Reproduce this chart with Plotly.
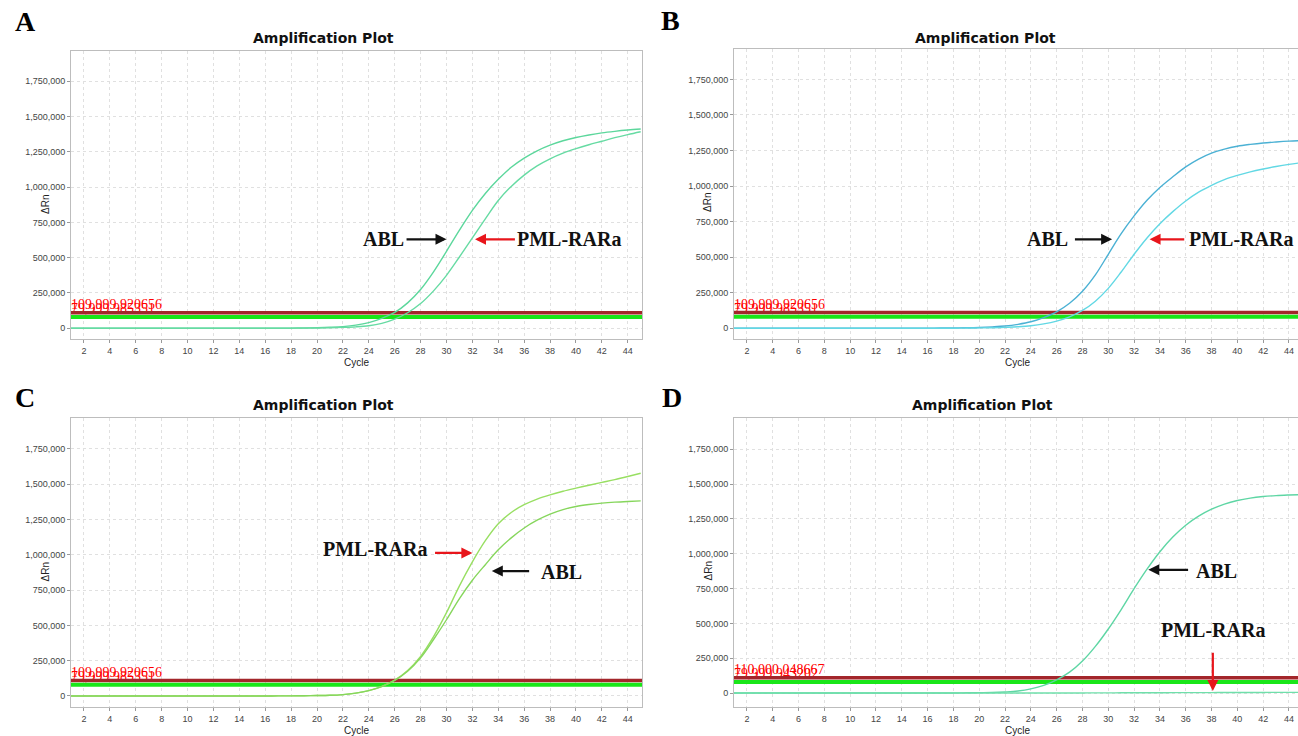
import plotly.graph_objects as go

W, H = 1298, 736
cycles = list(range(1, 46))

# ---- Panel A ----
a_abl = [0, 0, 0, 0, 0, 0, 0, 0, 0, 0, 0, 0, 0, 0, 0, 0, 500, 1000, 2000, 4000,
         7000, 12000, 22000, 40000, 70000, 112000, 180000, 275000, 400000, 545000,
         695000, 835000, 955000, 1055000, 1140000, 1205000, 1257000, 1297000, 1328000, 1351000,
         1369000, 1384000, 1395000, 1404000, 1411000]
a_pml = [0, 0, 0, 0, 0, 0, 0, 0, 0, 0, 0, 0, 0, 0, 0, 0, 0, 500, 1000, 2000,
         3500, 6000, 10000, 18000, 35000, 65000, 110000, 175000, 265000, 375000,
         505000, 640000, 775000, 905000, 1005000, 1085000, 1150000, 1200000, 1240000, 1272000,
         1300000, 1325000, 1350000, 1372000, 1392000]
# ---- Panel B ----
b_abl = [0, 0, 0, 0, 0, 0, 0, 0, 0, 0, 0, 0, 0, 0, 0, 0, 1000, 2000, 3000, 5000,
         9000, 15000, 27000, 45000, 75000, 115000, 175000, 260000, 375000, 520000,
         665000, 790000, 900000, 990000, 1065000, 1135000, 1190000, 1232000, 1260000, 1280000,
         1293000, 1303000, 1310000, 1316000, 1320000]
b_pml = [0, 0, 0, 0, 0, 0, 0, 0, 0, 0, 0, 0, 0, 0, 0, 0, 0, 0, 1000, 2000,
         3000, 6000, 10000, 17000, 30000, 50000, 80000, 125000, 190000, 280000,
         395000, 520000, 635000, 735000, 820000, 895000, 957000, 1005000, 1045000, 1075000,
         1100000, 1120000, 1137000, 1152000, 1165000]
# ---- Panel C ----
c_pml = [0, 0, 0, 0, 0, 0, 0, 0, 0, 0, 0, 0, 0, 0, 0, 0, 500, 1000, 2000, 3000,
         5000, 10000, 20000, 38000, 68000, 112000, 180000, 280000, 420000, 590000,
         780000, 950000, 1100000, 1220000, 1300000, 1355000, 1395000, 1425000, 1450000, 1472000,
         1493000, 1513000, 1533000, 1555000, 1578000]
c_abl = [0, 0, 0, 0, 0, 0, 0, 0, 0, 0, 0, 0, 0, 0, 0, 0, 500, 1000, 2000, 3000,
         5000, 10000, 20000, 38000, 67000, 110000, 175000, 270000, 400000, 540000,
         690000, 820000, 930000, 1035000, 1120000, 1190000, 1245000, 1288000, 1320000, 1342000,
         1356000, 1366000, 1373000, 1378000, 1382000]
# ---- Panel D ----
d_abl = [0, 0, 0, 0, 0, 0, 0, 0, 0, 0, 0, 0, 0, 0, 0, 0, 500, 1000, 2000, 3000,
         4000, 8000, 15000, 30000, 55000, 95000, 150000, 230000, 335000, 460000,
         600000, 750000, 890000, 1015000, 1120000, 1205000, 1270000, 1320000, 1357000, 1383000,
         1400000, 1411000, 1418000, 1422000, 1425000]
d_pml = [0, 0, 0, 0, 0, 0, 0, 0, 0, 0, 0, 0, 0, 0, 0, 0, 0, 0, 0, 0,
         0, 0, 0, 0, 500, 500, 1000, 1000, 1500, 1500, 2000, 2000, 2500, 2500,
         3000, 3000, 3500, 3500, 4000, 4000, 4500, 4500, 5000, 5000, 5000]

thr_abc = [109999.920656, 79999.985351]
thr_abc_labels = ["109,999.920656", "79,999.985351"]
thr_d = [110000.048667, 79999.943202]
thr_d_labels = ["110,000.048667", "79,999.943202"]

y_ticks = [0, 250000, 500000, 750000, 1000000, 1250000, 1500000, 1750000]
y_tick_labels = ["0", "250,000", "500,000", "750,000", "1,000,000", "1,250,000", "1,500,000", "1,750,000"]
x_ticks = list(range(2, 45, 2))

# pixel boxes of plot areas: (left, right, top, bottom)
boxes = {
    "A": (71, 642, 51, 339),
    "B": (734, 1298, 49, 339),
    "C": (71, 642, 418, 707),
    "D": (734, 1298, 418, 707),
}
yranges = {"A": [-76000, 1964000], "B": [-76000, 1964000],
           "C": [-78000, 1969000], "D": [-100000, 1975000]}
xranges = {"A": [1, 45.1], "B": [1, 44.7], "C": [1, 45.1], "D": [1, 44.7]}

panels = [
    ("A", "", [(a_abl, "#5cd79c"), (a_pml, "#66dba3")], thr_abc, thr_abc_labels),
    ("B", "2", [(b_abl, "#4bb1d4"), (b_pml, "#62d8e4")], thr_abc, thr_abc_labels),
    ("C", "3", [(c_pml, "#98df62"), (c_abl, "#86d65c")], thr_abc, thr_abc_labels),
    ("D", "4", [(d_abl, "#5ed6a4"), (d_pml, "#6fdfaa")], thr_d, thr_d_labels),
]

fig = go.Figure()
layout = {}
annotations = []

serif = "Liberation Serif"
sans = "Liberation Sans"

for name, sfx, curves, thr, thr_labels in panels:
    xa, ya = "x" + sfx, "y" + sfx
    l, r, t, b = boxes[name]
    layout["xaxis" + sfx] = dict(
        domain=[l / W, min(r / W, 1.0)], anchor=ya, range=xranges[name],
        tickvals=x_ticks, ticktext=[str(v) for v in x_ticks],
        tickfont=dict(family=sans, size=9, color="#444"),
        ticks="outside", ticklen=3, tickcolor="#999",
        showgrid=True, gridcolor="#e0e0e0", griddash="dot", gridwidth=1,
        showline=True, linecolor="#bdbdbd", linewidth=1, mirror=True,
        zeroline=False, fixedrange=True, automargin=False)
    layout["yaxis" + sfx] = dict(
        domain=[1 - b / H, 1 - t / H], anchor=xa, range=yranges[name],
        tickvals=y_ticks, ticktext=y_tick_labels,
        tickfont=dict(family=sans, size=9, color="#444"),
        ticks="outside", ticklen=3, tickcolor="#999",
        showgrid=True, gridcolor="#e0e0e0", griddash="dot", gridwidth=1,
        showline=True, linecolor="#bdbdbd", linewidth=1, mirror=True,
        zeroline=False, fixedrange=True, automargin=False)

    # threshold labels (drawn first so the lines cover them)
    for val, lab in zip(thr, thr_labels):
        fig.add_trace(go.Scatter(x=[1], y=[val], mode="text", text=[lab],
                                 textposition="top right",
                                 textfont=dict(family=serif, size=14, color="#ff0000"),
                                 xaxis=xa, yaxis=ya, showlegend=False, hoverinfo="skip"))
    # threshold lines
    fig.add_trace(go.Scatter(x=[1, 46], y=[thr[0], thr[0]], mode="lines",
                             line=dict(color="#a3262b", width=3.5),
                             xaxis=xa, yaxis=ya, showlegend=False, hoverinfo="skip"))
    fig.add_trace(go.Scatter(x=[1, 46], y=[thr[1], thr[1]], mode="lines",
                             line=dict(color="#19e619", width=4),
                             xaxis=xa, yaxis=ya, showlegend=False, hoverinfo="skip"))
    for vals, col in curves:
        fig.add_trace(go.Scatter(x=cycles, y=vals, mode="lines",
                                 line=dict(color=col, width=1.4, shape="spline"),
                                 xaxis=xa, yaxis=ya, showlegend=False))

    cx_title = {"A": 323, "B": 985, "C": 323, "D": 983}[name]
    cy_title = {"A": 38, "B": 38, "C": 405, "D": 405}[name]
    annotations.append(dict(text="<b>Amplification Plot</b>", xref="paper", yref="paper",
                            x=cx_title / W, y=1 - cy_title / H, xanchor="center", yanchor="middle",
                            showarrow=False, font=dict(family="DejaVu Sans", size=14, color="#111")))
    annotations.append(dict(text="Cycle", xref="paper", yref="paper",
                            x=(l + r) / 2 / W if name in "AC" else 1017 / W,
                            y=1 - (b + 23) / H, xanchor="center", yanchor="middle",
                            showarrow=False, font=dict(family=sans, size=10, color="#222")))
    annotations.append(dict(text="ΔRn", xref="paper", yref="paper", textangle=-90,
                            x=(l - 26) / W, y=1 - ((t + b) / 2 + 9) / H, xanchor="center", yanchor="middle",
                            showarrow=False, font=dict(family=sans, size=10, color="#222")))
    lx, ly = {"A": (25, 22), "B": (670, 20), "C": (25, 397), "D": (672, 397)}[name]
    annotations.append(dict(text="<b>%s</b>" % name, xref="paper", yref="paper",
                            x=lx / W, y=1 - ly / H, xanchor="center", yanchor="middle",
                            showarrow=False, font=dict(family=serif, size=28, color="#000")))

lab_font = dict(family=serif, size=20, color="#111")


def label(sfx, text, x, y):
    annotations.append(dict(text="<b>%s</b>" % text, xref="x" + sfx, yref="y" + sfx,
                            x=x, y=y, showarrow=False, xanchor="center", yanchor="middle",
                            font=lab_font))


def arrow(sfx, x0, y0, x1, y1, color):
    annotations.append(dict(text="", xref="x" + sfx, yref="y" + sfx,
                            x=x1, y=y1, ax=x0, ay=y0, axref="x" + sfx, ayref="y" + sfx,
                            showarrow=True, arrowhead=2, arrowsize=1, arrowwidth=2.2,
                            arrowcolor=color))


# Panel A annotations
label("", "ABL", 25.1, 630000)
arrow("", 26.8, 630000, 30.0, 630000, "#111")
label("", "PML-RARa", 39.5, 630000)
arrow("", 35.4, 630000, 32.2, 630000, "#e8151b")
# Panel B
label("2", "ABL", 25.3, 625000)
arrow("2", 27.3, 625000, 30.3, 625000, "#111")
label("2", "PML-RARa", 40.3, 625000)
arrow("2", 36.0, 625000, 33.2, 625000, "#e8151b")
# Panel C
label("3", "PML-RARa", 24.5, 1040000)
arrow("3", 29.0, 1013000, 32.0, 1013000, "#e8151b")
label("3", "ABL", 38.9, 880000)
arrow("3", 36.5, 885000, 33.5, 885000, "#111")
# Panel D
label("4", "ABL", 38.4, 880000)
arrow("4", 36.3, 885000, 33.1, 885000, "#111")
label("4", "PML-RARa", 38.1, 455000)
arrow("4", 38.1, 300000, 38.1, 15000, "#e8151b")

fig.update_layout(**layout)
fig.update_layout(width=W, height=H, margin=dict(l=0, r=0, t=0, b=0),
                  paper_bgcolor="white", plot_bgcolor="white",
                  annotations=annotations, showlegend=False)
fig.write_html("out.html", config={"displayModeBar": False},
               post_script="document.body.style.margin='0';document.body.style.overflow='hidden';")
